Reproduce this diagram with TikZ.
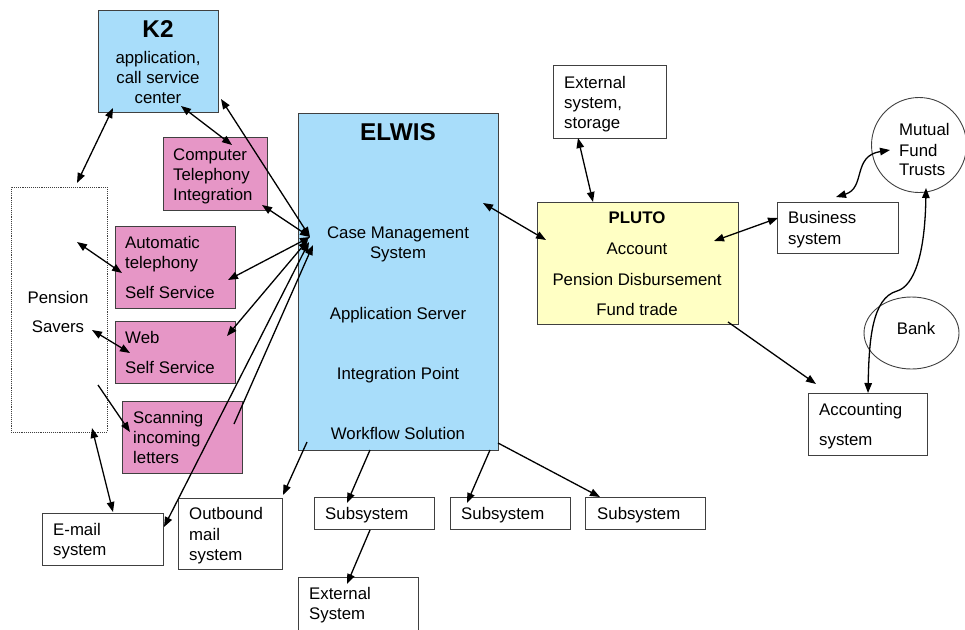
\documentclass[tikz,border=0pt]{standalone}
\usepackage{fontspec}
\setmainfont{Liberation Sans}
\usetikzlibrary{arrows.meta,shapes.geometric}

\definecolor{elwisblue}{RGB}{168,221,250}
\definecolor{ctipink}{RGB}{230,150,198}
\definecolor{plutoyellow}{RGB}{255,255,196}
\definecolor{edgegray}{RGB}{64,64,64}

\newcommand{\fs}{\fontsize{16.8}{20}\selectfont}
\newcommand{\fsbig}{\fontsize{24.3}{28}\selectfont\bfseries}

\tikzset{
  box/.style={draw=edgegray, line width=0.9pt, anchor=north west, inner sep=0pt, outer sep=0pt},
  lbl/.style={anchor=mid west, inner sep=0pt, font=\fs, yshift=-4pt},
  clbl/.style={anchor=mid, inner sep=0pt, font=\fs, yshift=-4pt},
  conn/.style={line width=1.3pt, black},
  tip/.tip={Triangle[length=10pt,width=7.5pt]},
  both/.style={conn, tip-tip},
  one/.style={conn, -tip}
}

\begin{document}
\begin{tikzpicture}[x=1pt, y=-1pt]
\useasboundingbox (0,0) rectangle (965,629);

% ---------- boxes ----------
\node[box, fill=elwisblue, minimum width=120pt, minimum height=102pt] (k2) at (98,10) {};
\node[box, fill=ctipink, minimum width=104pt, minimum height=73pt] (cti) at (163,137) {};
\node[box, densely dotted, line width=0.8pt, minimum width=96pt, minimum height=245pt] (savers) at (11,187) {};
\node[box, fill=ctipink, minimum width=120pt, minimum height=82pt] (ats) at (115,226) {};
\node[box, fill=ctipink, minimum width=120pt, minimum height=62pt] (web) at (115,321) {};
\node[box, fill=ctipink, minimum width=120pt, minimum height=72pt] (scan) at (122,401) {};
\node[box, fill=elwisblue, minimum width=200pt, minimum height=337pt] (elwis) at (298,113) {};
\node[box, minimum width=121pt, minimum height=52pt] (email) at (42,513) {};
\node[box, minimum width=104pt, minimum height=71pt] (outmail) at (178,498) {};
\node[box, minimum width=120pt, minimum height=32pt] (sub1) at (314,497) {};
\node[box, minimum width=120pt, minimum height=32pt] (sub2) at (450,497) {};
\node[box, minimum width=120pt, minimum height=32pt] (sub3) at (585,497) {};
\node[box, minimum width=120pt, minimum height=60pt] (extsys) at (298,577) {};
\node[box, minimum width=113pt, minimum height=73pt] (storage) at (553,65) {};
\node[box, fill=plutoyellow, minimum width=201pt, minimum height=122pt] (pluto) at (537,202) {};
\node[box, minimum width=121pt, minimum height=51pt] (business) at (777,202) {};
\node[box, minimum width=119pt, minimum height=62pt] (accounting) at (808,393) {};
\node[draw=edgegray, line width=0.9pt, circle, minimum size=95pt, inner sep=0pt] (mutual) at (919,145) {};
\node[draw=edgegray, line width=0.9pt, ellipse, minimum width=95pt, minimum height=72pt, inner sep=0pt] (bank) at (911.5,333) {};

% ---------- texts ----------
\node[anchor=mid, inner sep=0pt, font=\fsbig, yshift=-4pt] (k2t) at (158,31) {K2};
\node[clbl] (k2l1) at (158,57) {application,};
\node[clbl] (k2l2) at (158,77) {call service};
\node[clbl] (k2l3) at (158,97) {center};

\node[lbl] (ctil1) at (173,154) {Computer};
\node[lbl] (ctil2) at (173,174) {Telephony};
\node[lbl] (ctil3) at (173,194) {Integration};

\node[clbl] (savl1) at (58,297) {Pension};
\node[clbl] (savl2) at (58,326) {Savers};

\node[lbl] (atsl1) at (125,242) {Automatic};
\node[lbl] (atsl2) at (125,262) {telephony};
\node[lbl] (atsl3) at (125,292) {Self Service};

\node[lbl] (webl1) at (125,337) {Web};
\node[lbl] (webl2) at (125,367) {Self Service};

\node[lbl] (scanl1) at (133,417) {Scanning};
\node[lbl] (scanl2) at (133,437) {incoming};
\node[lbl] (scanl3) at (133,457) {letters};

\node[anchor=mid, inner sep=0pt, font=\fsbig, yshift=-4pt] (elwist) at (398,134) {ELWIS};
\node[clbl] (elwl1) at (398,232) {Case Management};
\node[clbl] (elwl2) at (398,252) {System};
\node[clbl] (elwl3) at (398,313) {Application Server};
\node[clbl] (elwl4) at (398,373) {Integration Point};
\node[clbl] (elwl5) at (398,433) {Workflow Solution};

\node[lbl] (emaill1) at (53,529) {E-mail};
\node[lbl] (emaill2) at (53,549) {system};

\node[lbl] (outl1) at (189,513) {Outbound};
\node[lbl] (outl2) at (189,534) {mail};
\node[lbl] (outl3) at (189,554) {system};

\node[lbl] (sub1l) at (325,513) {Subsystem};
\node[lbl] (sub2l) at (461,513) {Subsystem};
\node[lbl] (sub3l) at (597,513) {Subsystem};

\node[lbl] (extl1) at (309,593) {External};
\node[lbl] (extl2) at (309,613) {System};

\node[lbl] (stol1) at (564,82) {External};
\node[lbl] (stol2) at (564,102) {system,};
\node[lbl] (stol3) at (564,122) {storage};

\node[anchor=mid, inner sep=0pt, font=\fs\bfseries, yshift=-4pt] (plutot) at (637,217) {PLUTO};
\node[clbl] (plul1) at (637,248) {Account};
\node[clbl] (plul2) at (637,279) {Pension Disbursement};
\node[clbl] (plul3) at (637,309) {Fund trade};

\node[lbl] (busl1) at (788,217) {Business};
\node[lbl] (busl2) at (788,238) {system};

\node[lbl] (mutl1) at (899,129) {Mutual};
\node[lbl] (mutl2) at (899,150) {Fund};
\node[lbl] (mutl3) at (899,169) {Trusts};

\node[clbl] (bankl) at (916,328) {Bank};

\node[lbl] (accl1) at (819,409) {Accounting};
\node[lbl] (accl2) at (819,439) {system};

% ---------- connector ends ----------
\coordinate (k2a) at (113,108);   \coordinate (sava) at (77,183);
\coordinate (k2b) at (181,106);   \coordinate (ctia) at (232,145);
\coordinate (k2c) at (221,99);    \coordinate (elwa) at (310,237);
\coordinate (ctib) at (262,205);
\coordinate (atsa) at (228,280);
\coordinate (weba) at (227,336);  \coordinate (elwb) at (308,240);
\coordinate (scana) at (234,424); \coordinate (elwc) at (313,245);
\coordinate (emaila) at (164,527); \coordinate (elwd) at (309,242);
\coordinate (savb) at (77,242);   \coordinate (atsb) at (122,273);
\coordinate (savc) at (92,330);   \coordinate (webb) at (130,353);
\coordinate (savd) at (98,385);   \coordinate (scanb) at (130,432);
\coordinate (save) at (92,428);   \coordinate (emailb) at (113,512);
\coordinate (elwe) at (307,442);  \coordinate (outa) at (283,495);
\coordinate (elwf) at (370,450);  \coordinate (sub1a) at (347,503);
\coordinate (elwg) at (490,450);  \coordinate (sub2a) at (467,503);
\coordinate (elwh) at (498,443);  \coordinate (sub3a) at (600,497);
\coordinate (sub1b) at (370,530); \coordinate (exta) at (347,584);
\coordinate (elwi) at (483,203);  \coordinate (plua) at (546,240);
\coordinate (stoa) at (578,138);  \coordinate (plub) at (593,202);
\coordinate (pluc) at (714,241);  \coordinate (busa) at (778,218);
\coordinate (plud) at (728,322);  \coordinate (acca) at (816,384);
\coordinate (busb) at (836,197);  \coordinate (muta) at (890,150);
\coordinate (mutb) at (926,188);  \coordinate (bend) at (897,291);
\coordinate (accb) at (868,393);

% ---------- connectors ----------
\draw[both] (k2a) -- (sava);
\draw[both] (k2b) -- (ctia);
\draw[both] (k2c) -- (elwa);
\draw[both] (ctib) -- (elwa);
\draw[both] (atsa) -- (elwa);
\draw[both] (weba) -- (elwb);
\draw[one] (scana) -- (elwc);
\draw[both] (emaila) -- (elwd);
\draw[both] (savb) -- (atsb);
\draw[both] (savc) -- (webb);
\draw[one] (savd) -- (scanb);
\draw[both] (save) -- (emailb);
\draw[one] (elwe) -- (outa);
\draw[one] (elwf) -- (sub1a);
\draw[one] (elwg) -- (sub2a);
\draw[one] (elwh) -- (sub3a);
\draw[one] (sub1b) -- (exta);
\draw[both] (elwi) -- (plua);
\draw[both] (stoa) -- (plub);
\draw[both] (pluc) -- (busa);
\draw[one] (plud) -- (acca);
\draw[both] (busb) .. controls (866,188) and (852,156) .. (muta);
\draw[both] (mutb) .. controls (925,255) and (914,286) .. (bend)
                   .. controls (872,298) and (869,340) .. (accb);
\end{tikzpicture}
\end{document}
